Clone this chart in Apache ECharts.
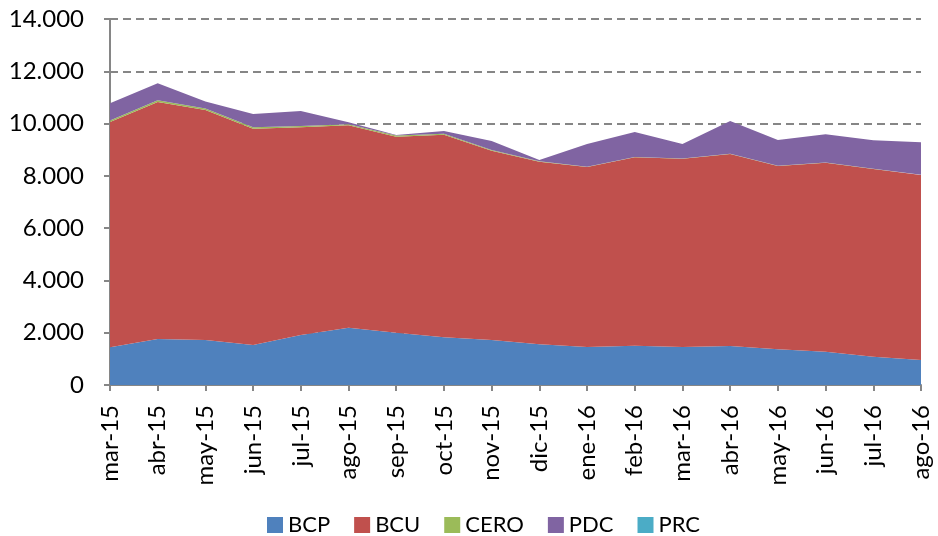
<!DOCTYPE html>
<html lang="es">
<head>
    <meta charset="UTF-8">
    <title>Stock por instrumento</title>
    <script src="https://cdn.jsdelivr.net/npm/echarts@6.0.0/dist/echarts.min.js"></script>
    <style>
        body { margin: 0; background: #fff; }
    </style>
</head>
<body>
    <div id="chart" style="width: 938px; height: 536px;"></div>

    <script>
        // meses
        const months = ['mar-15', 'abr-15', 'may-15', 'jun-15', 'jul-15', 'ago-15', 'sep-15', 'oct-15', 'nov-15',
            'dic-15', 'ene-16', 'feb-16', 'mar-16', 'abr-16', 'may-16', 'jun-16', 'jul-16', 'ago-16'];

        // valores
        const bcp = [1440, 1760, 1720, 1530, 1910, 2190, 2000, 1825, 1720, 1555, 1455, 1500, 1455, 1490, 1365, 1275, 1085, 955];
        const bcu = [8620, 9065, 8800, 8275, 7945, 7745, 7500, 7750, 7240, 6985, 6885, 7210, 7200, 7345, 7010, 7230, 7180, 7080];
        const cero = [60, 70, 60, 50, 50, 40, 40, 40, 30, 20, 10, 10, 10, 10, 10, 10, 10, 10];
        const pdc = [655, 645, 260, 510, 575, 75, 25, 100, 340, 45, 870, 960, 555, 1255, 985, 1075, 1090, 1240];
        const prc = [0, 0, 0, 0, 0, 0, 0, 0, 0, 0, 0, 0, 0, 0, 0, 0, 0, 0];

        const yTicks = [0, 2000, 4000, 6000, 8000, 10000, 12000, 14000];

        const colors = ['#4F81BD', '#C0504D', '#9BBB59', '#8064A2', '#4BACC6'];
        const font = 'Lato, "Open Sans", sans-serif';

        let chart = echarts.init(document.getElementById('chart'));

        function fmt(v) {
            return String(v).replace(/\B(?=(\d{3})+(?!\d))/g, '.');
        }

        function area(name, data, idx) {
            return {
                name: name,
                type: 'line',
                stack: 'total',
                data: data,
                symbol: 'none',
                lineStyle: { width: 0 },
                areaStyle: { color: colors[idx], opacity: 1 },
                itemStyle: { color: colors[idx] }
            };
        }

        let option = {
            animation: false,
            color: colors,
            textStyle: { fontFamily: font },
            grid: { left: 110, right: 17, top: 19, bottom: 151 },
            legend: {
                bottom: -5,
                left: 262,
                icon: 'rect',
                itemWidth: 16,
                itemHeight: 16,
                itemGap: 24,
                textStyle: { fontSize: 22, color: '#000', fontFamily: font },
                data: ['BCP', 'BCU', 'CERO', 'PDC', 'PRC']
            },
            xAxis: {
                type: 'category',
                data: months,
                boundaryGap: false,
                axisLine: { lineStyle: { color: '#868686', width: 2 } },
                axisTick: { alignWithLabel: true, length: 6, lineStyle: { color: '#868686', width: 2 } },
                axisLabel: { rotate: 90, interval: 0, fontSize: 24, color: '#000', margin: 20, fontFamily: font }
            },
            yAxis: {
                type: 'value',
                min: 0,
                max: 14000,
                interval: 2000,
                axisLine: { show: true, lineStyle: { color: '#868686', width: 2 } },
                axisTick: { show: true, length: 6, lineStyle: { color: '#868686', width: 2 } },
                axisLabel: {
                    fontSize: 24, color: '#000', margin: 26, fontFamily: font,
                    formatter: function (v) { return yTicks.indexOf(v) >= 0 ? fmt(v) : ''; }
                },
                splitLine: { show: true, lineStyle: { color: '#868686', type: [8, 5], width: 2 } }
            },
            series: [
                area('BCP', bcp, 0),
                area('BCU', bcu, 1),
                area('CERO', cero, 2),
                area('PDC', pdc, 3),
                area('PRC', prc, 4)
            ]
        };

        chart.setOption(option);
    </script>
</body>
</html>
